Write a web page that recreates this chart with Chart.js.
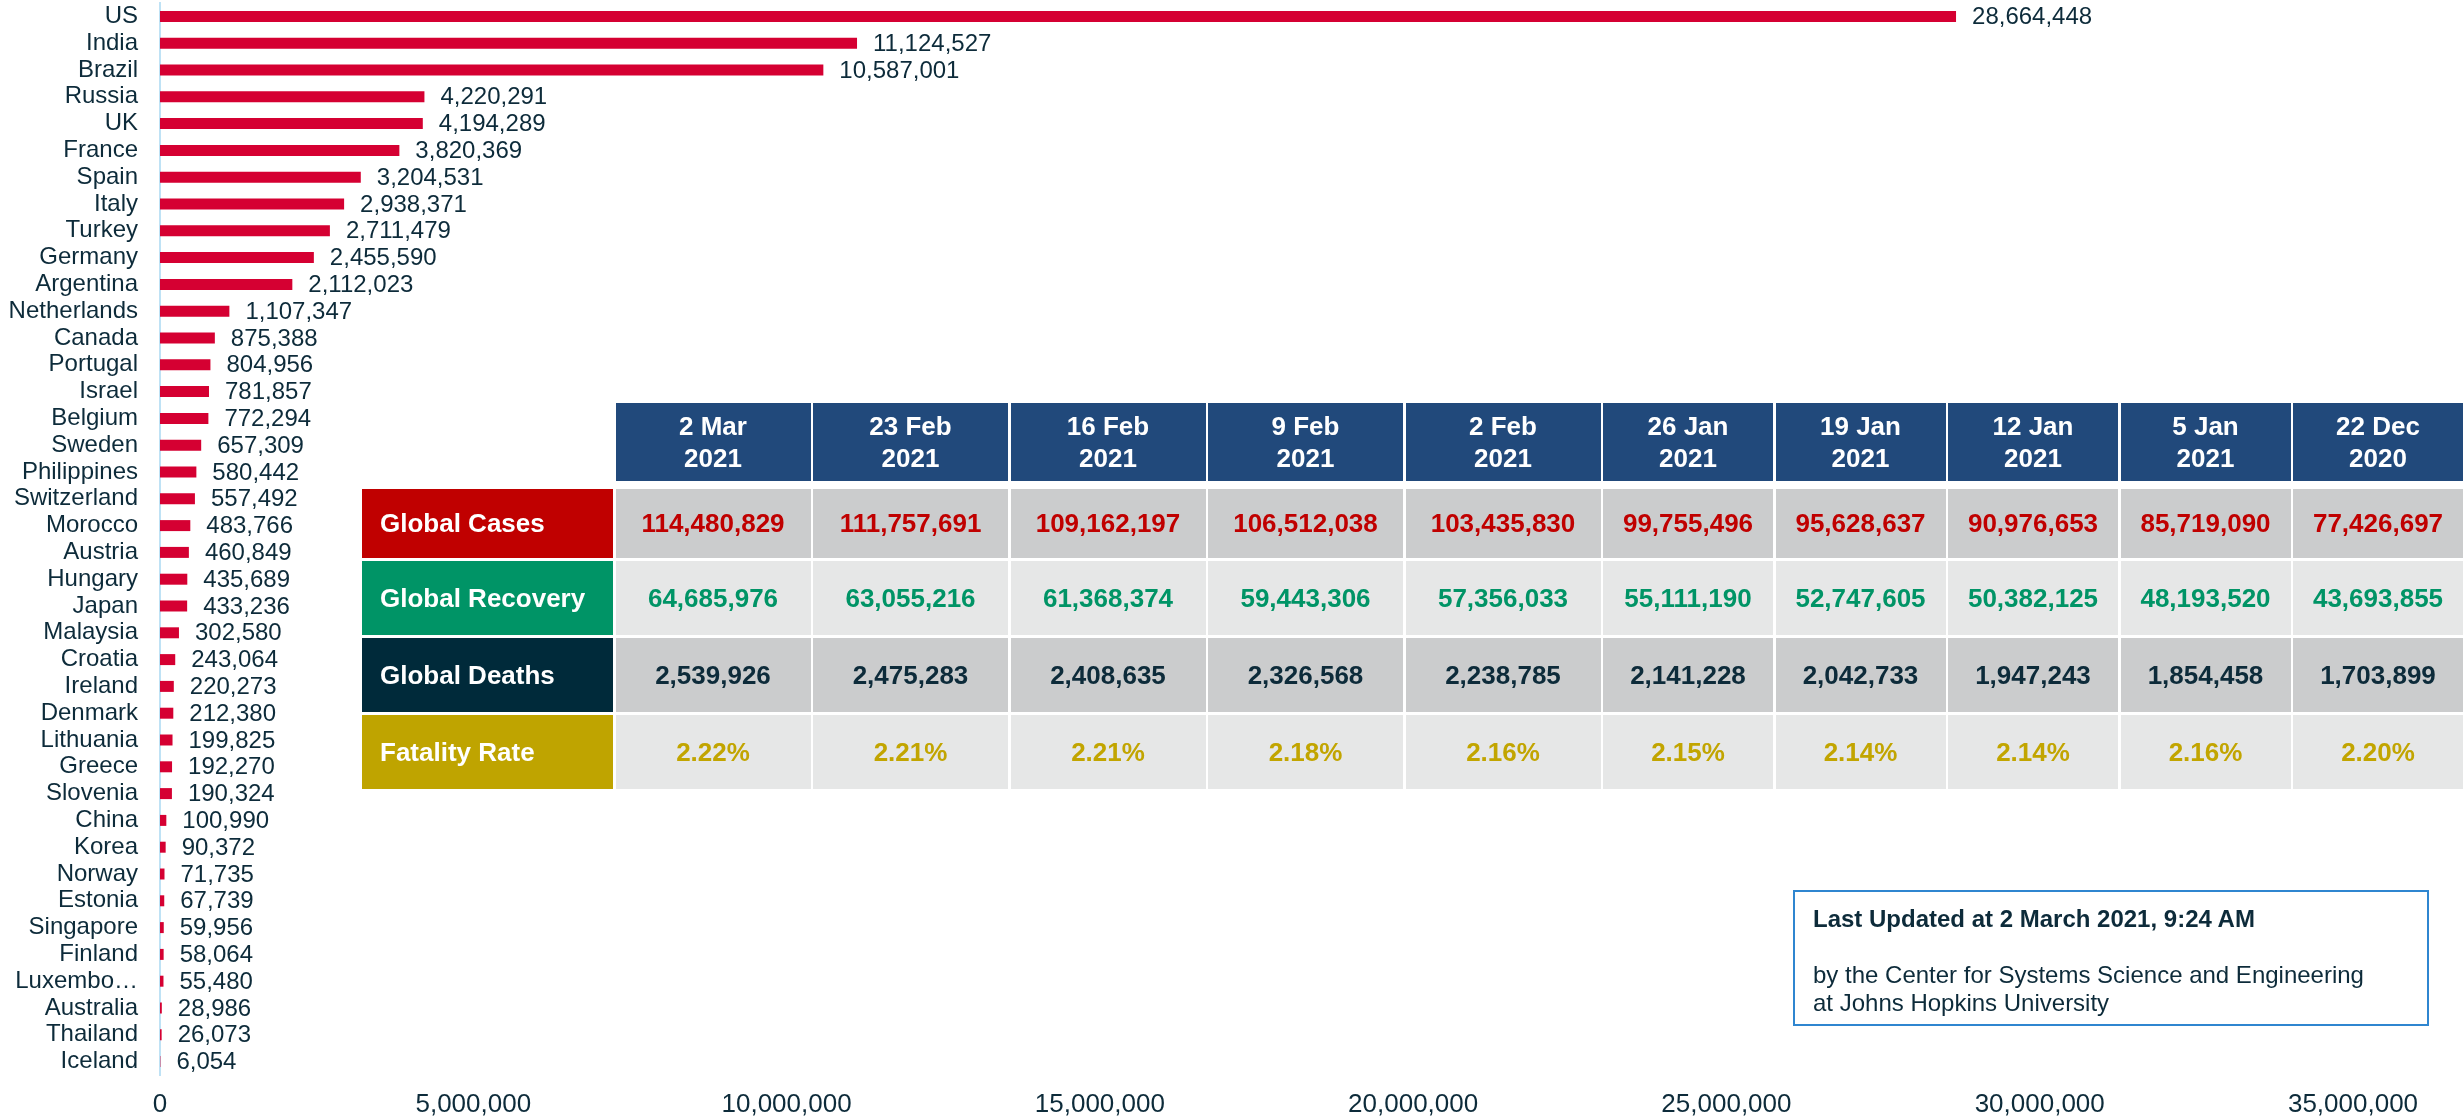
<!DOCTYPE html>
<html>
<head>
<meta charset="utf-8">
<script src="https://cdn.jsdelivr.net/npm/chart.js@4.4.1/dist/chart.umd.min.js"></script>
<style>
  body { margin: 0; background: #fff; font-family: "Liberation Sans", Arial, sans-serif; }
  #wrap { position: relative; width: 2463px; height: 1118px; }
  #stats {
    position: absolute; left: 362px; top: 403px;
    display: grid;
    grid-template-columns: 251px repeat(5, 195px) repeat(5, 170px);
    grid-template-rows: 78px 74px 74px 74px 74px;
    column-gap: 2.5px; row-gap: 3px;
    font-weight: bold; font-size: 26px;
  }
  #stats div { display: flex; align-items: center; justify-content: center; text-align: center; }
  #stats .hd { background: #21497b; color: #fff; line-height: 32px; }
  #stats .lbl { justify-content: flex-start; padding-left: 18px; color: #fff; }
  #stats .r1 { margin-top: 5px; }
  #info {
    position: absolute; left: 1793px; top: 890px; width: 632px; height: 132px;
    border: 2px solid #2f86d0; color: #0d2b3a; font-size: 24px;
  }
  #info .t { position: absolute; left: 18px; top: 13px; font-weight: bold; }
  #info .s { position: absolute; left: 18px; top: 69px; line-height: 28px; }
</style>
</head>
<body>
<div id="wrap">
  <canvas id="casesChart"></canvas>
  <div id="stats"></div>
  <div id="info">
    <div class="t">Last Updated at 2 March 2021, 9:24 AM</div>
    <div class="s">by the Center for Systems Science and Engineering<br>at Johns Hopkins University</div>
  </div>
</div>
<script>
const countries = ["US", "India", "Brazil", "Russia", "UK", "France", "Spain", "Italy", "Turkey", "Germany",
  "Argentina", "Netherlands", "Canada", "Portugal", "Israel", "Belgium", "Sweden", "Philippines", "Switzerland", "Morocco",
  "Austria", "Hungary", "Japan", "Malaysia", "Croatia", "Ireland", "Denmark", "Lithuania", "Greece", "Slovenia",
  "China", "Korea", "Norway", "Estonia", "Singapore", "Finland", "Luxembo…", "Australia", "Thailand", "Iceland"];
const cases = [28664448, 11124527, 10587001, 4220291, 4194289, 3820369, 3204531, 2938371, 2711479, 2455590,
  2112023, 1107347, 875388, 804956, 781857, 772294, 657309, 580442, 557492, 483766,
  460849, 435689, 433236, 302580, 243064, 220273, 212380, 199825, 192270, 190324,
  100990, 90372, 71735, 67739, 59956, 58064, 55480, 28986, 26073, 6054];
const xTicks = [0, 5000000, 10000000, 15000000, 20000000, 25000000, 30000000, 35000000];

const tableDates = ["2 Mar|2021", "23 Feb|2021", "16 Feb|2021", "9 Feb|2021", "2 Feb|2021",
  "26 Jan|2021", "19 Jan|2021", "12 Jan|2021", "5 Jan|2021", "22 Dec|2020"];
const globalCases = ["114,480,829", "111,757,691", "109,162,197", "106,512,038", "103,435,830",
  "99,755,496", "95,628,637", "90,976,653", "85,719,090", "77,426,697"];
const globalRecovery = ["64,685,976", "63,055,216", "61,368,374", "59,443,306", "57,356,033",
  "55,111,190", "52,747,605", "50,382,125", "48,193,520", "43,693,855"];
const globalDeaths = ["2,539,926", "2,475,283", "2,408,635", "2,326,568", "2,238,785",
  "2,141,228", "2,042,733", "1,947,243", "1,854,458", "1,703,899"];
const fatalityRate = ["2.22%", "2.21%", "2.21%", "2.18%", "2.16%", "2.15%", "2.14%", "2.14%", "2.16%", "2.20%"];

const textColor = "#0d2b3a";
const font = '"Liberation Sans", Arial, sans-serif';
const fmt = v => v.toLocaleString("en-US");

// table
const rows = [
  { name: "Global Cases", vals: globalCases, bg: "#c00000", cell: "#cbcccd", fg: "#c00000" },
  { name: "Global Recovery", vals: globalRecovery, bg: "#009466", cell: "#e6e7e7", fg: "#009466" },
  { name: "Global Deaths", vals: globalDeaths, bg: "#002a3a", cell: "#cbcccd", fg: "#0d2b3a" },
  { name: "Fatality Rate", vals: fatalityRate, bg: "#bfa400", cell: "#e6e7e7", fg: "#c2a500" }
];
const stats = document.getElementById("stats");
let html = "<div></div>";
tableDates.forEach(d => {
  const [a, b] = d.split("|");
  html += `<div class="hd">${a}<br>${b}</div>`;
});
rows.forEach((r, ri) => {
  const m = ri === 0 ? " r1" : "";
  html += `<div class="lbl${m}" style="background:${r.bg}">${r.name}</div>`;
  r.vals.forEach(v => {
    html += `<div class="${m}" style="background:${r.cell};color:${r.fg}">${v}</div>`;
  });
});
stats.innerHTML = html;

const valueLabels = {
  id: "valueLabels",
  afterDatasetsDraw(chart) {
    const ctx = chart.ctx;
    const meta = chart.getDatasetMeta(0);
    ctx.save();
    ctx.font = `24px ${font}`;
    ctx.fillStyle = textColor;
    ctx.textAlign = "left";
    ctx.textBaseline = "middle";
    meta.data.forEach((bar, i) => {
      ctx.fillText(fmt(cases[i]), bar.x + 16, bar.y + 1);
    });
    ctx.restore();
  }
};

new Chart(document.getElementById("casesChart"), {
  type: "bar",
  data: {
    labels: countries,
    datasets: [{
      data: cases,
      backgroundColor: "#d50032",
      barPercentage: 0.41,
      categoryPercentage: 1
    }]
  },
  options: {
    indexAxis: "y",
    responsive: true,
    maintainAspectRatio: false,
    animation: false,
    layout: { padding: { top: 3, right: 110, left: 0, bottom: 0 } },
    plugins: { legend: { display: false }, tooltip: { enabled: false } },
    scales: {
      x: {
        min: 0, max: 35000000,
        afterBuildTicks: s => { s.ticks = xTicks.map(v => ({ value: v })); },
        afterFit: s => { s.height = 43; s.paddingLeft = 0; s.paddingRight = 0; },
        grid: { display: false, drawTicks: false },
        border: { display: false },
        ticks: {
          color: textColor, padding: 17, maxRotation: 0,
          font: { family: font, size: 26, lineHeight: 1 },
          callback: v => fmt(v)
        }
      },
      y: {
        afterFit: s => { s.width = 160; s.paddingTop = 0; s.paddingBottom = 0; },
        grid: { display: false, drawTicks: false },
        border: { display: true, color: "#bfe2f5", width: 2 },
        ticks: {
          color: textColor, padding: 22, autoSkip: false,
          font: { family: font, size: 24 }
        }
      }
    }
  },
  plugins: [valueLabels]
});
</script>
</body>
</html>
